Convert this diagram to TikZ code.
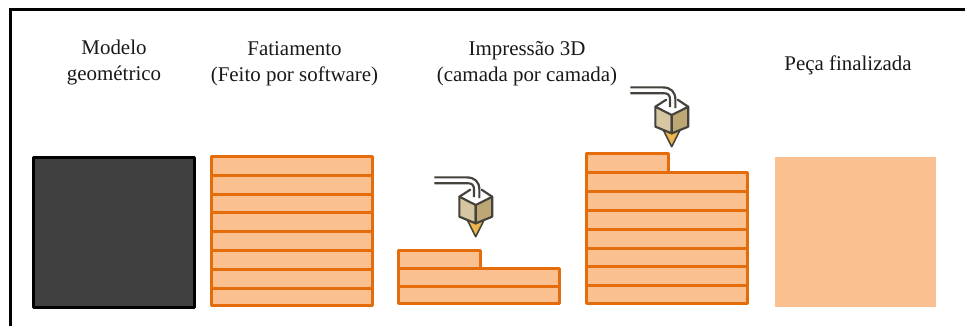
\documentclass[tikz,border=0pt]{standalone}
\usepackage{fontspec}
\setmainfont{Liberation Serif}
\definecolor{orangeline}{HTML}{E46C0A}
\definecolor{orangefill}{HTML}{FAC090}
\definecolor{darkfill}{HTML}{404040}
\definecolor{noz}{HTML}{45423C}
\definecolor{faceleft}{HTML}{D6C7A2}
\definecolor{faceright}{HTML}{BCA775}
\definecolor{conefill}{HTML}{EDB54E}
\tikzset{
  x=0.75pt,y=-0.75pt,
  frameline/.style={line width=2.25pt,black},
  solidbox/.style={line width=2.25pt,draw=black,fill=darkfill,line join=round},
  layer/.style={line width=2.25pt,draw=orangeline,fill=orangefill,line join=round},
  finalbox/.style={fill=orangefill},
  caption/.style={align=center,font=\fontsize{15.7pt}{19.5pt}\selectfont,text=black!90,inner sep=0pt},
  nozline/.style={draw=noz,line width=1.6pt,line join=round},
  nozzle/.pic={
    \draw[nozline] (-41.3,-59.3) -- (-9,-59.3) .. controls (-1,-59.3) and (3.7,-55) .. (3.7,-47) -- (3.7,-38.5);
    \draw[nozline] (-41.3,-53.5) -- (-8,-53.5) .. controls (-3.5,-53.5) and (-1.7,-51.5) .. (-1.7,-47) -- (-1.7,-39.5);
    \filldraw[fill=conefill,draw=noz,line width=1.2pt,line join=round] (-8,-16) -- (8,-16) -- (0,0) -- cycle;
    \filldraw[nozline,fill=faceleft] (-16.3,-40) -- (0,-31.7) -- (0,-13.3) -- (-16.3,-20) -- cycle;
    \filldraw[nozline,fill=faceright] (16.5,-40) -- (0,-31.7) -- (0,-13.3) -- (16.5,-20) -- cycle;
    \draw[nozline,line cap=round] (-16.3,-40) -- (-5.5,-47);
    \draw[nozline,line cap=round] (6,-47) -- (16.5,-40);
  }
}
\begin{document}
\begin{tikzpicture}
\useasboundingbox (0,0) rectangle (965,326);
\fill[white] (0,0) rectangle (965,326);
% frame
\draw[frameline] (10.5,326) -- (10.5,9) -- (965,9);
% captions
\node[caption] (modelo) at (114,62.5) {Modelo\\geométrico};
\node[caption] (fatia) at (294.5,63.5) {Fatiamento\\(Feito por software)};
\node[caption] (impr) at (527,64) {Impressão 3D\\(camada por camada)};
\node[caption] (peca) at (848,65) {Peça finalizada};
% solid model
\draw[solidbox] (33.5,157) rectangle (194.5,307.5);
% sliced stack
\foreach \a/\b in {156.5/175,175/194,194/212.5,212.5/231,231/250,250/269,269/288,288/305}
  \draw[layer] (211.5,\a) rectangle (372,\b);
% printing, first stage
\draw[layer] (398,250) rectangle (480,268);
\foreach \a/\b in {268/286,286/303.5}
  \draw[layer] (398,\a) rectangle (559,\b);
\pic at (475.7,236.7) {nozzle};
% printing, second stage
\draw[layer] (586,153) rectangle (668.5,172);
\foreach \a/\b in {172/191,191/210,210/229,229/248,248/266,266/285,285/303}
  \draw[layer] (586,\a) rectangle (747,\b);
\pic at (671.7,146.7) {nozzle};
% finished part
\fill[finalbox] (775,157) rectangle (936,307);
\end{tikzpicture}
\end{document}
